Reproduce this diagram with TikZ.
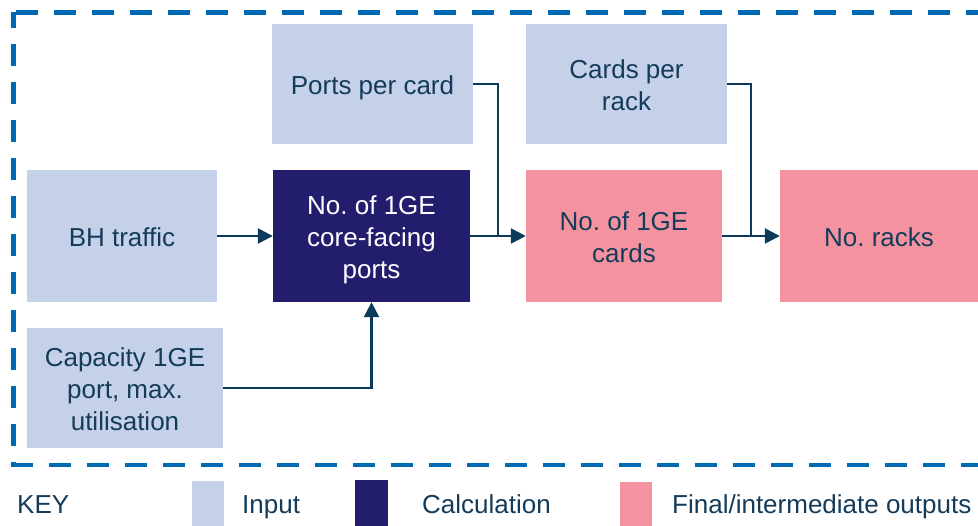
\documentclass[tikz,border=0pt]{standalone}
\usepackage{fontspec}
\setmainfont{Liberation Sans}
\usetikzlibrary{arrows.meta,calc}
\frenchspacing
\definecolor{inputc}{HTML}{C5D0E9}
\definecolor{calcc}{HTML}{231D6E}
\definecolor{outc}{HTML}{F4939F}
\definecolor{dashc}{HTML}{0069B4}
\definecolor{arrc}{HTML}{0B3A5A}
\definecolor{txtc}{HTML}{143C5A}
\newcommand\boxline[1]{\raisebox{0pt}[24pt][3pt]{#1}}
\tikzset{
  box/.style={rectangle, inner sep=0pt, align=center, text=txtc,
    font=\fontsize{26}{32}\selectfont},
  inbox/.style={box, fill=inputc},
  calcbox/.style={box, fill=calcc, text=white},
  outbox/.style={box, fill=outc},
  conn/.style={draw=arrc, line width=2.5pt, -{Triangle[length=15pt,width=15pt]}},
  plainconn/.style={draw=arrc, line width=2.5pt},
  keytext/.style={anchor=base west, text=txtc, inner sep=0pt, font=\fontsize{26}{32}\selectfont},
}
\begin{document}
\begin{tikzpicture}[x=1pt,y=-1pt]
\clip (0,0) rectangle (978,526);
\fill[white] (0,0) rectangle (978,526);
% dashed frame
\draw[dashc, line width=4.5pt, dash pattern=on 22pt off 16pt, dash phase=6pt]
  (13.5,12.5) rectangle (995,465);
% boxes
\node[inbox, minimum width=201pt, minimum height=120pt] (ppc) at (372.5,84) {\boxline{Ports per card}};
\node[inbox, minimum width=201pt, minimum height=120pt] (cpr) at (626.5,84) {\boxline{Cards per}\\\boxline{rack}};
\node[inbox, minimum width=190pt, minimum height=132pt] (bh) at (122,236) {\boxline{BH traffic}};
\node[calcbox, minimum width=197pt, minimum height=132pt] (core) at (371.5,236) {\boxline{No. of 1GE}\\\boxline{core-facing}\\\boxline{ports}};
\node[outbox, minimum width=196pt, minimum height=132pt] (cards) at (624,236) {\boxline{No. of 1GE}\\\boxline{cards}};
\node[outbox, minimum width=198pt, minimum height=132pt] (racks) at (879,236) {\boxline{No. racks}};
\node[inbox, minimum width=196pt, minimum height=120pt] (cap) at (125,388) {\boxline{Capacity 1GE}\\\boxline{port, max.}\\\boxline{utilisation}};
% connectors
\coordinate (j1) at ($(core.east)!0.5!(cards.west)$);
\coordinate (j2) at ($(cards.east)!0.5!(racks.west)$);
\draw[conn] (bh.east) -- (core.west);
\draw[conn] (core.east) -- (cards.west);
\draw[plainconn] (ppc.east) -| (j1);
\draw[conn] (cards.east) -- (racks.west);
\draw[plainconn] (cpr.east) -| (j2);
\draw[conn] (cap.east) -| (core.south);
% key
\node[keytext] (key) at (17,514) {KEY};
\node[fill=inputc, minimum width=32pt, minimum height=50pt, inner sep=0pt, anchor=north west] (kin) at (192,481) {};
\node[keytext] (kint) at (242,514) {Input};
\node[fill=calcc, minimum width=33pt, minimum height=50pt, inner sep=0pt, anchor=north west] (kcalc) at (355,480) {};
\node[keytext] (kcalct) at (422,514) {Calculation};
\node[fill=outc, minimum width=32pt, minimum height=50pt, inner sep=0pt, anchor=north west] (kout) at (620,482) {};
\node[keytext] (koutt) at (672,514) {Final/intermediate outputs};
\end{tikzpicture}
\end{document}
